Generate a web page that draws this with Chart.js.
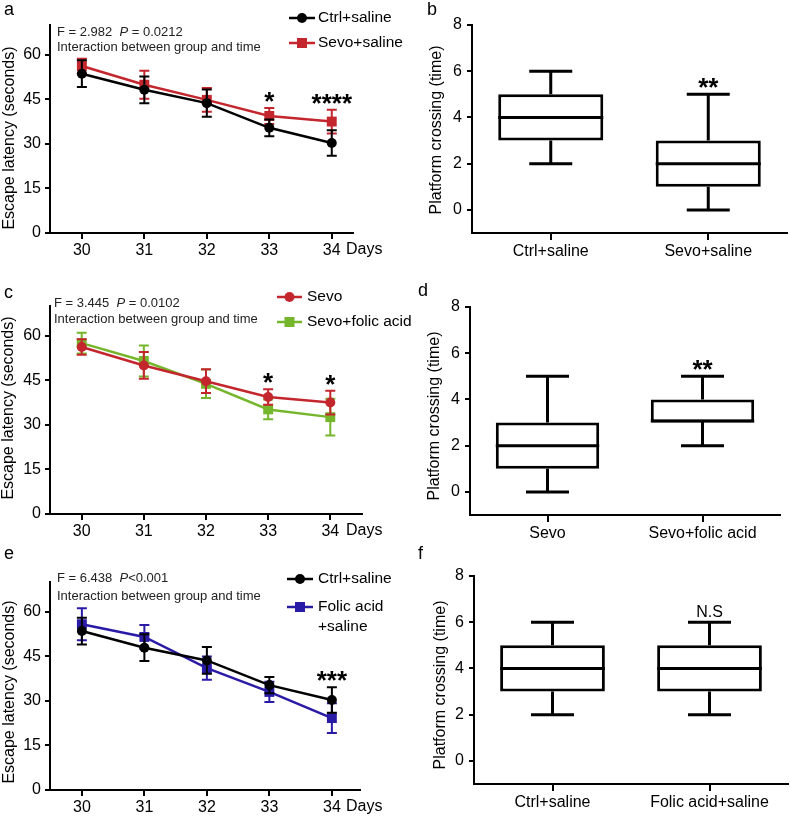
<!DOCTYPE html>
<html>
<head>
<meta charset="utf-8">
<script src="https://cdn.jsdelivr.net/npm/chart.js@4.4.1/dist/chart.umd.min.js"></script>
<style>
  body { margin: 0; background: #fff; width: 790px; height: 817px; position: relative; overflow: hidden; }
  canvas { position: absolute; }
</style>
</head>
<body>
<canvas id="chartA" width="430" height="270" style="left:0;top:0"></canvas>
<canvas id="chartB" width="390" height="270" style="left:400px;top:0"></canvas>
<canvas id="chartC" width="430" height="275" style="left:0;top:270px"></canvas>
<canvas id="chartD" width="390" height="275" style="left:400px;top:270px"></canvas>
<canvas id="chartE" width="430" height="272" style="left:0;top:545px"></canvas>
<canvas id="chartF" width="390" height="272" style="left:400px;top:545px"></canvas>
<script>
const FONT = "'Liberation Sans', Arial, Helvetica, sans-serif";
Chart.defaults.font.family = FONT;
Chart.defaults.font.size = 16;
Chart.defaults.color = '#000';

const RED = '#c4262e', GREEN = '#76b62c', BLUE = '#2a1ba6', BLACK = '#000';

// water maze days
const days = [30, 31, 32, 33, 34];
const latencyTicks = [0, 15, 30, 45, 60];
const crossingTicks = [0, 2, 4, 6, 8];

// a: escape latency, mean and error
const aCtrlMean = [53.6, 48.2, 43.7, 35.4, 30.3];
const aCtrlErr = [4.5, 4.5, 4.6, 2.8, 4.3];
const aSevoMean = [56.2, 49.9, 44.8, 39.4, 37.5];
const aSevoErr = [2.4, 4.7, 4.0, 2.7, 4.0];
const aMarks = ['', '', '', '*', '****'];

// b: platform crossing
const bGroups = ['Ctrl+saline', 'Sevo+saline'];
const bMin = [2, 0], bQ1 = [3, 1], bMed = [4, 2], bQ3 = [5, 3], bMax = [6, 5];
const bMarks = ['', '**'];

// c
const cSevoMean = [56.2, 50.0, 44.7, 39.4, 37.5];
const cSevoErr = [2.6, 4.5, 4.0, 2.6, 4.0];
const cFolicMean = [57.5, 51.5, 43.8, 35.2, 32.6];
const cFolicErr = [3.5, 5.2, 4.8, 3.3, 6.2];
const cMarks = ['', '', '', '*', '*'];

// d
const dGroups = ['Sevo', 'Sevo+folic acid'];
const dMin = [0, 2], dQ1 = [1, 3], dMed = [2, 3], dQ3 = [3, 4], dMax = [5, 5];
const dMarks = ['', '**'];

// e
const eCtrlMean = [53.5, 47.9, 43.6, 35.3, 30.3];
const eCtrlErr = [4.5, 4.5, 4.5, 2.7, 4.3];
const eFolicMean = [55.8, 51.5, 41.0, 33.0, 24.2];
const eFolicErr = [5.4, 4.0, 3.9, 3.4, 5.0];
const eMarks = ['', '', '', '', '***'];

// f
const fGroups = ['Ctrl+saline', 'Folic acid+saline'];
const fMin = [2, 2], fQ1 = [3, 3], fMed = [4, 4], fQ3 = [5, 5], fMax = [6, 6];
const fMarks = ['', 'N.S'];

// error bars drawn under each line
const errorBars = {
  id: 'errorBars',
  beforeDatasetDraw(chart, args) {
    const ds = chart.data.datasets[args.index];
    if (!ds.errors) return;
    const y = chart.scales.y, ctx = chart.ctx;
    ctx.save();
    ctx.strokeStyle = ds.borderColor;
    ctx.lineWidth = 2;
    args.meta.data.forEach((pt, i) => {
      const v = ds.data[i].y, e = ds.errors[i];
      const t = y.getPixelForValue(v + e), b = y.getPixelForValue(v - e);
      ctx.beginPath();
      ctx.moveTo(pt.x, t); ctx.lineTo(pt.x, b);
      ctx.moveTo(pt.x - 5, t); ctx.lineTo(pt.x + 5, t);
      ctx.moveTo(pt.x - 5, b); ctx.lineTo(pt.x + 5, b);
      ctx.stroke();
    });
    ctx.restore();
  }
};

// whiskers and median for the box plots
const boxWhiskers = {
  id: 'boxWhiskers',
  afterDatasetsDraw(chart) {
    const ds = chart.data.datasets[0];
    const st = ds.stats;
    if (!st) return;
    const y = chart.scales.y, ctx = chart.ctx;
    ctx.save();
    ctx.strokeStyle = '#000';
    ctx.lineWidth = 3;
    chart.getDatasetMeta(0).data.forEach((bar, i) => {
      const x = bar.x, half = bar.width / 2;
      const yMin = y.getPixelForValue(st.min[i]), yQ1 = y.getPixelForValue(st.q1[i]);
      const yQ3 = y.getPixelForValue(st.q3[i]), yMax = y.getPixelForValue(st.max[i]);
      let yMed = y.getPixelForValue(st.med[i]);
      // keep the median on top of the box edge when they coincide
      if (st.med[i] === st.q1[i]) yMed -= 1.5;
      if (st.med[i] === st.q3[i]) yMed += 1.5;
      ctx.beginPath();
      ctx.moveTo(x, yQ3); ctx.lineTo(x, yMax);
      ctx.moveTo(x - 21.5, yMax); ctx.lineTo(x + 21.5, yMax);
      ctx.moveTo(x, yQ1); ctx.lineTo(x, yMin);
      ctx.moveTo(x - 21.5, yMin); ctx.lineTo(x + 21.5, yMin);
      ctx.moveTo(x - half, yMed); ctx.lineTo(x + half, yMed);
      ctx.stroke();
    });
    ctx.restore();
  }
};

// panel letter, axis title, stats text, legend, significance marks
function makeDeco(d) {
  return {
    id: 'deco',
    afterDraw(chart) {
      const ctx = chart.ctx, area = chart.chartArea;
      ctx.save();
      ctx.fillStyle = '#000';
      ctx.textBaseline = 'middle';
      ctx.textAlign = 'left';
      ctx.font = '18px ' + FONT;
      ctx.fillText(d.letter, d.letterX, d.letterY);

      ctx.save();
      ctx.translate(d.titleX, d.titleY);
      ctx.rotate(-Math.PI / 2);
      ctx.textAlign = 'center';
      ctx.font = '16px ' + FONT;
      ctx.fillText(d.title, 0, 0);
      ctx.restore();

      if (d.xEnd) {
        ctx.font = '16px ' + FONT;
        ctx.fillText(d.xEnd, 346, area.bottom + 17);
      }

      (d.notes || []).forEach(n => {
        let x = n.x;
        ctx.fillStyle = '#222';
        n.parts.forEach(p => {
          ctx.font = (p[1] ? 'italic ' : '') + '13px ' + FONT;
          ctx.fillText(p[0], x, n.y);
          x += ctx.measureText(p[0]).width;
        });
      });

      (d.legend || []).forEach(it => {
        ctx.strokeStyle = it.color;
        ctx.lineWidth = 2.5;
        ctx.beginPath();
        ctx.moveTo(it.x0, it.y); ctx.lineTo(it.x1, it.y);
        ctx.stroke();
        ctx.fillStyle = it.color;
        const cx = (it.x0 + it.x1) / 2;
        if (it.marker === 'circle') {
          ctx.beginPath(); ctx.arc(cx, it.y, 5, 0, 2 * Math.PI); ctx.fill();
        } else {
          ctx.fillRect(cx - 5, it.y - 5, 10, 10);
        }
        ctx.fillStyle = '#000';
        ctx.font = '15.5px ' + FONT;
        it.text.forEach((t, k) => ctx.fillText(t, it.tx, it.y + k * 20));
      });

      if (d.marks) {
        ctx.textAlign = 'center';
        ctx.textBaseline = 'alphabetic';
        ctx.fillStyle = '#000';
        d.marks.forEach((m, i) => {
          if (!m) return;
          const x = chart.scales.x.getPixelForValue(d.markX[i]);
          const top = chart.scales.y.getPixelForValue(d.markTop[i]);
          if (m === 'N.S') {
            ctx.font = '16px ' + FONT;
            ctx.fillText(m, x, top - 5);
          } else {
            ctx.font = 'bold 26px ' + FONT;
            ctx.fillText(m, x, top + 2);
          }
        });
      }
      ctx.restore();
    }
  };
}

function axisStyle(tickLength) {
  return {
    border: { color: '#000', width: 2 },
    grid: { drawOnChartArea: false, color: '#000', lineWidth: 2, tickLength: tickLength, offset: false },
  };
}

function lineChart(id, series, xMax, lay, deco) {
  const tops = days.map((_, i) => Math.max(...series.map(s => s.mean[i] + s.err[i])));
  deco.markX = days;
  deco.markTop = tops;
  return new Chart(document.getElementById(id), {
    type: 'line',
    data: {
      datasets: series.map(s => ({
        label: s.label,
        data: days.map((d, i) => ({ x: d, y: s.mean[i] })),
        errors: s.err,
        borderColor: s.color,
        backgroundColor: s.color,
        borderWidth: 2.5,
        pointStyle: s.marker,
        pointRadius: s.marker === 'rect' ? 7 : 5,
        pointBorderWidth: 0,
        tension: 0
      }))
    },
    options: {
      responsive: false,
      animation: false,
      layout: { padding: { top: lay.top, right: lay.right, left: 0, bottom: 0 } },
      plugins: { legend: { display: false }, tooltip: { enabled: false } },
      scales: {
        x: Object.assign(axisStyle(6), {
          type: 'linear', min: 29.49, max: xMax,
          afterBuildTicks: s => { s.ticks = days.map(v => ({ value: v })); },
          afterFit: s => { s.height = lay.xH; },
          ticks: { padding: 2, font: { size: 16 }, color: '#000' }
        }),
        y: Object.assign(axisStyle(5), {
          min: 0, max: 70,
          afterBuildTicks: s => { s.ticks = latencyTicks.map(v => ({ value: v })); },
          afterFit: s => { s.width = 50; },
          ticks: { padding: 4, font: { size: 16 }, color: '#000' }
        })
      }
    },
    plugins: [errorBars, makeDeco(deco)]
  });
}

function boxChart(id, groups, st, lay, deco) {
  deco.markX = groups.map((_, i) => i);
  deco.markTop = st.max;
  return new Chart(document.getElementById(id), {
    type: 'bar',
    data: {
      labels: groups,
      datasets: [{
        data: groups.map((_, i) => [st.q1[i], st.q3[i]]),
        stats: st,
        backgroundColor: '#fff',
        borderColor: '#000',
        borderWidth: 3,
        borderSkipped: false,
        barPercentage: 0.667,
        categoryPercentage: 1
      }]
    },
    options: {
      responsive: false,
      animation: false,
      layout: { padding: { top: lay.top, right: lay.right, left: 0, bottom: 0 } },
      plugins: { legend: { display: false }, tooltip: { enabled: false } },
      scales: {
        x: Object.assign(axisStyle(7), {
          afterFit: s => { s.height = lay.xH; },
          ticks: { padding: 2, font: { size: 16 }, color: '#000' }
        }),
        y: Object.assign(axisStyle(5), {
          min: -1, max: 8,
          afterBuildTicks: s => { s.ticks = crossingTicks.map(v => ({ value: v })); },
          afterFit: s => { s.width = lay.yW; },
          ticks: { padding: 5, font: { size: 16 }, color: '#000' }
        })
      }
    },
    plugins: [boxWhiskers, makeDeco(deco)]
  });
}

const latencyTitle = 'Escape latency (seconds)';
const crossingTitle = 'Platform crossing (time)';

// left canvases are 35px wider than their plots so the legends can run past them
lineChart('chartA', [
  { label: 'Ctrl+saline', mean: aCtrlMean, err: aCtrlErr, color: BLACK, marker: 'circle' },
  { label: 'Sevo+saline', mean: aSevoMean, err: aSevoErr, color: RED, marker: 'rect' }
], 34.34, { top: 25, right: 77, xH: 37 }, {
  letter: 'a', letterX: 4, letterY: 10,
  title: latencyTitle, titleX: 10, titleY: 138, xEnd: 'Days',
  notes: [
    { x: 57, y: 32, parts: [['F = 2.982  ', false], ['P', true], [' = 0.0212', false]] },
    { x: 57, y: 47, parts: [['Interaction between group and time', false]] }
  ],
  legend: [
    { x0: 289, x1: 315, y: 18, tx: 318, color: BLACK, marker: 'circle', text: ['Ctrl+saline'] },
    { x0: 289, x1: 315, y: 43, tx: 318, color: RED, marker: 'rect', text: ['Sevo+saline'] }
  ],
  marks: aMarks
});

boxChart('chartB', bGroups, { min: bMin, q1: bQ1, med: bMed, q3: bQ3, max: bMax },
  { top: 25, right: 3, xH: 37, yW: 72 }, {
  letter: 'b', letterX: 27, letterY: 10,
  title: crossingTitle, titleX: 37, titleY: 130,
  marks: bMarks
});

lineChart('chartC', [
  { label: 'Sevo', mean: cSevoMean, err: cSevoErr, color: RED, marker: 'circle' },
  { label: 'Sevo+folic acid', mean: cFolicMean, err: cFolicErr, color: GREEN, marker: 'rect' }
], 34.51, { top: 36, right: 68, xH: 31 }, {
  letter: 'c', letterX: 4, letterY: 23,
  title: latencyTitle, titleX: 9, titleY: 138, xEnd: 'Days',
  notes: [
    { x: 54, y: 33, parts: [['F = 3.445  ', false], ['P', true], [' = 0.0102', false]] },
    { x: 54, y: 49, parts: [['Interaction between group and time', false]] }
  ],
  legend: [
    { x0: 277, x1: 302, y: 27, tx: 307, color: RED, marker: 'circle', text: ['Sevo'] },
    { x0: 277, x1: 302, y: 52, tx: 307, color: GREEN, marker: 'rect', text: ['Sevo+folic acid'] }
  ],
  marks: cMarks
});

boxChart('chartD', dGroups, { min: dMin, q1: dQ1, med: dMed, q3: dQ3, max: dMax },
  { top: 37, right: 10, xH: 30, yW: 70 }, {
  letter: 'd', letterX: 18, letterY: 21,
  title: crossingTitle, titleX: 35, titleY: 146,
  marks: dMarks
});

lineChart('chartE', [
  { label: 'Ctrl+saline', mean: eCtrlMean, err: eCtrlErr, color: BLACK, marker: 'circle' },
  { label: 'Folic acid+saline', mean: eFolicMean, err: eFolicErr, color: BLUE, marker: 'rect' }
], 34.45, { top: 37, right: 70, xH: 27 }, {
  letter: 'e', letterX: 4, letterY: 9,
  title: latencyTitle, titleX: 10, titleY: 147, xEnd: 'Days',
  notes: [
    { x: 57, y: 33, parts: [['F = 6.438  ', false], ['P', true], ['<0.001', false]] },
    { x: 57, y: 51, parts: [['Interaction between group and time', false]] }
  ],
  legend: [
    { x0: 287, x1: 313, y: 34, tx: 318, color: BLACK, marker: 'circle', text: ['Ctrl+saline'] },
    { x0: 287, x1: 313, y: 62, tx: 318, color: BLUE, marker: 'rect', text: ['Folic acid', '+saline'] }
  ],
  marks: eMarks
});

boxChart('chartF', fGroups, { min: fMin, q1: fQ1, med: fMed, q3: fQ3, max: fMax },
  { top: 31, right: 2, xH: 33, yW: 74 }, {
  letter: 'f', letterX: 18, letterY: 9,
  title: crossingTitle, titleX: 41, titleY: 140,
  marks: fMarks
});
</script>
</body>
</html>
